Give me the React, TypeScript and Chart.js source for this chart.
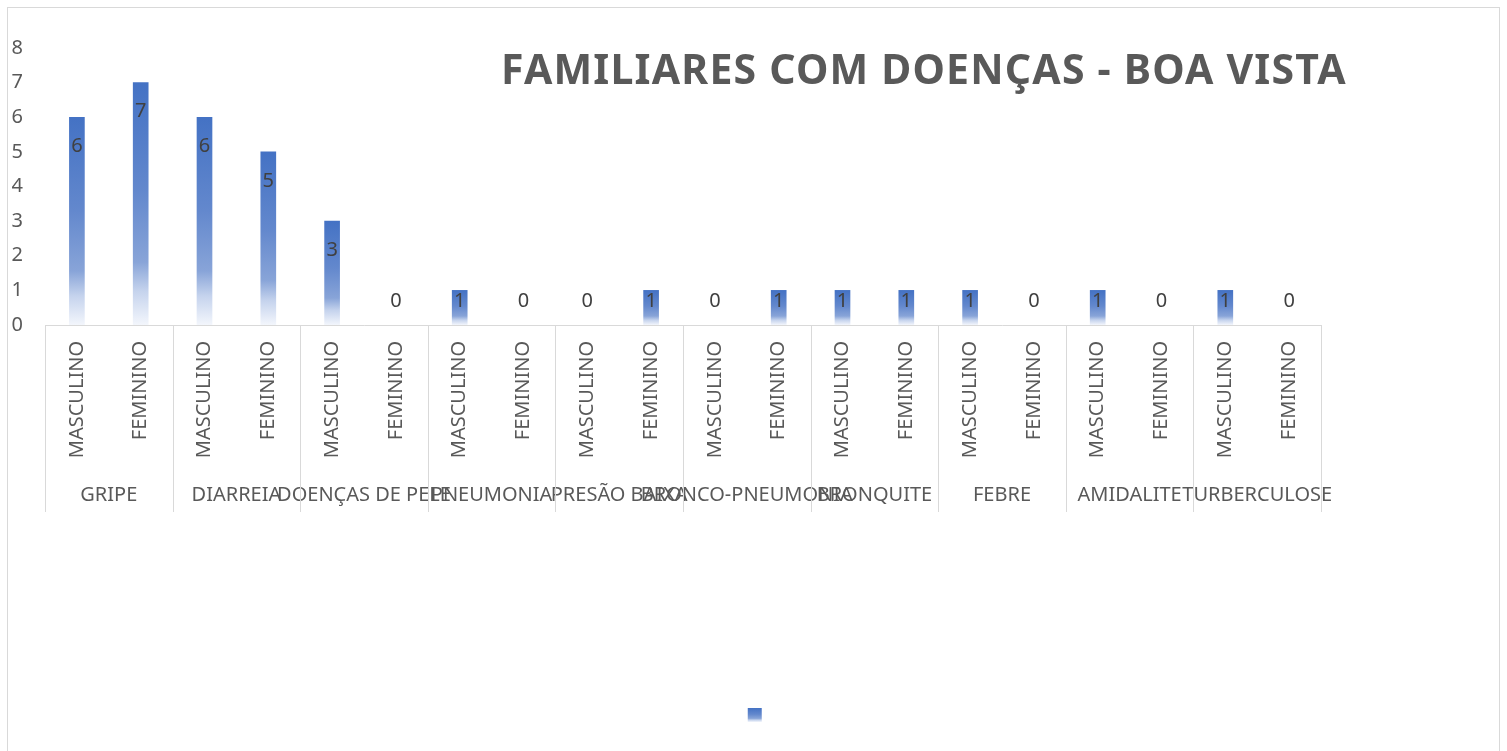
import React, { useEffect, useRef } from "react";
import { Chart, registerables } from "chart.js";

Chart.register(...registerables);

const TITLE = "FAMILIARES COM DOENÇAS - BOA VISTA";
const groups = [
  "GRIPE",
  "DIARREIA",
  "DOENÇAS DE PELE",
  "PNEUMONIA",
  "PRESÃO BAIXA",
  "BRONCO-PNEUMONIA",
  "BRONQUITE",
  "FEBRE",
  "AMIDALITE",
  "TURBERCULOSE",
];
const sexes = ["MASCULINO", "FEMININO"];
const values = [6, 7, 6, 5, 3, 0, 1, 0, 0, 1, 0, 1, 1, 1, 1, 0, 1, 0, 1, 0];
const yTicks = [0, 1, 2, 3, 4, 5, 6, 7, 8];

const FONT = "'Noto Sans', sans-serif";
const AXIS_COLOR = "#595959";
const LINE_COLOR = "#d9d9d9";

function addStops(g: CanvasGradient) {
  g.addColorStop(0, "#4472c4");
  g.addColorStop(0.45, "#6388cd");
  g.addColorStop(0.74, "#88a4d8");
  g.addColorStop(0.86, "#c5d3ed");
  g.addColorStop(1, "#f3f6fc");
  return g;
}

export default function App() {
  const ref = useRef<HTMLCanvasElement | null>(null);

  useEffect(() => {
    if (!ref.current) return;
    const categoryLabels = groups.flatMap(() => sexes);

    const titlePlugin = {
      id: "customTitle",
      afterDraw(chart: any) {
        const ctx = chart.ctx;
        ctx.save();
        ctx.font = `bold 41px ${FONT}`;
        try {
          (ctx as any).letterSpacing = "1.2px";
        } catch (e) {}
        ctx.fillStyle = AXIS_COLOR;
        ctx.textAlign = "left";
        ctx.textBaseline = "alphabetic";
        ctx.fillText(TITLE, 493, 75.5);
        ctx.restore();
      },
    };

    const separatorPlugin = {
      id: "groupSeparators",
      afterDraw(chart: any) {
        const xs = chart.scales.x;
        const x2 = chart.scales.x2;
        const ctx = chart.ctx;
        const w = xs.width / categoryLabels.length;
        ctx.save();
        ctx.strokeStyle = LINE_COLOR;
        ctx.lineWidth = 1;
        for (let k = 0; k <= groups.length; k++) {
          const px = Math.round(xs.left + k * 2 * w) + 0.5;
          ctx.beginPath();
          ctx.moveTo(px, xs.top);
          ctx.lineTo(px, x2.top + 47);
          ctx.stroke();
        }
        ctx.restore();
      },
    };

    const dataLabelPlugin = {
      id: "dataLabels",
      afterDatasetsDraw(chart: any) {
        const ctx = chart.ctx;
        const meta = chart.getDatasetMeta(0);
        ctx.save();
        ctx.font = `20px ${FONT}`;
        ctx.fillStyle = "#404040";
        ctx.textAlign = "center";
        ctx.textBaseline = "middle";
        meta.data.forEach((el: any, i: number) => {
          const y = Math.min(el.y + 29, el.base - 24);
          ctx.fillText(String(values[i]), el.x, y);
        });
        ctx.restore();
      },
    };

    const legendGradientPlugin = {
      id: "legendGradient",
      beforeDraw(chart: any) {
        const lg = chart.legend;
        if (!lg || !lg.legendItems || !lg.legendHitBoxes || !lg.legendHitBoxes[0]) return;
        const hb = lg.legendHitBoxes[0];
        const g = chart.ctx.createLinearGradient(0, hb.top, 0, hb.top + 14);
        addStops(g);
        lg.legendItems[0].fillStyle = g;
      },
    };

    const chart = new Chart(ref.current, {
      type: "bar",
      data: {
        labels: categoryLabels,
        datasets: [
          {
            label: "",
            data: values,
            barThickness: 15,
            borderWidth: 0,
            backgroundColor: (c: any) => {
              const chartObj = c.chart;
              const ys = chartObj.scales && chartObj.scales.y;
              if (c.raw === 0) return "rgba(0,0,0,0)";
              if (!ys || c.raw === undefined) return "#4472c4";
              const top = ys.getPixelForValue(c.raw);
              const base = ys.getPixelForValue(0);
              if (!isFinite(top) || !isFinite(base) || base - top < 1) return "rgba(0,0,0,0)";
              return addStops(chartObj.ctx.createLinearGradient(0, top, 0, base));
            },
          },
        ],
      },
      options: {
        animation: false,
        responsive: false,
        devicePixelRatio: 1,
        layout: { padding: { top: 40, left: 4, right: 0, bottom: 0 } },
        plugins: {
          title: { display: false },
          tooltip: { enabled: false },
          legend: {
            display: true,
            position: "bottom",
            labels: {
              boxWidth: 14,
              boxHeight: 14,
              padding: 10,
              font: { size: 1, family: FONT },
              generateLabels: () => [
                {
                  text: "",
                  fillStyle: "#4472c4",
                  strokeStyle: "rgba(0,0,0,0)",
                  lineWidth: 0,
                  hidden: false,
                  datasetIndex: 0,
                },
              ],
            },
          },
        },
        scales: {
          x: {
            type: "category",
            position: "bottom",
            weight: 1,
            offset: true,
            grid: { display: false, drawTicks: false },
            border: { display: true, color: LINE_COLOR, width: 1 },
            ticks: {
              autoSkip: false,
              minRotation: 90,
              maxRotation: 90,
              padding: 16,
              color: AXIS_COLOR,
              font: { size: 20, family: FONT },
            },
            afterFit: (s: any) => {
              s.height = 140;
            },
          },
          x2: {
            type: "category",
            position: "bottom",
            weight: 2,
            labels: groups,
            offset: true,
            grid: { display: false, drawTicks: false },
            border: { display: false },
            ticks: {
              autoSkip: false,
              minRotation: 0,
              maxRotation: 0,
              padding: 18,
              color: AXIS_COLOR,
              font: { size: 20, family: FONT },
            },
            afterFit: (s: any) => {
              s.height = 233;
            },
          },
          y: {
            type: "linear",
            position: "left",
            min: yTicks[0],
            max: yTicks[yTicks.length - 1],
            grid: { display: false, drawTicks: false },
            border: { display: false },
            afterBuildTicks: (s: any) => {
              s.ticks = yTicks.map((v) => ({ value: v }));
            },
            ticks: {
              padding: 22,
              color: AXIS_COLOR,
              font: { size: 20, family: FONT },
            },
            afterFit: (s: any) => {
              s.width = 33;
            },
          },
          yR: {
            type: "linear",
            position: "right",
            display: true,
            grid: { display: false, drawTicks: false },
            border: { display: false },
            ticks: { display: false },
            afterFit: (s: any) => {
              s.width = 177;
            },
          },
        },
      },
      plugins: [legendGradientPlugin, dataLabelPlugin, separatorPlugin, titlePlugin],
    });

    return () => chart.destroy();
  }, []);

  return (
    <div
      style={{
        position: "fixed",
        left: 7,
        top: 7,
        width: 1493,
        height: 800,
        boxSizing: "border-box",
        border: "1px solid #d9d9d9",
        background: "#ffffff",
      }}
    >
      <canvas ref={ref} width={1490} height={724} style={{ display: "block", width: 1490, height: 724 }} />
    </div>
  );
}
